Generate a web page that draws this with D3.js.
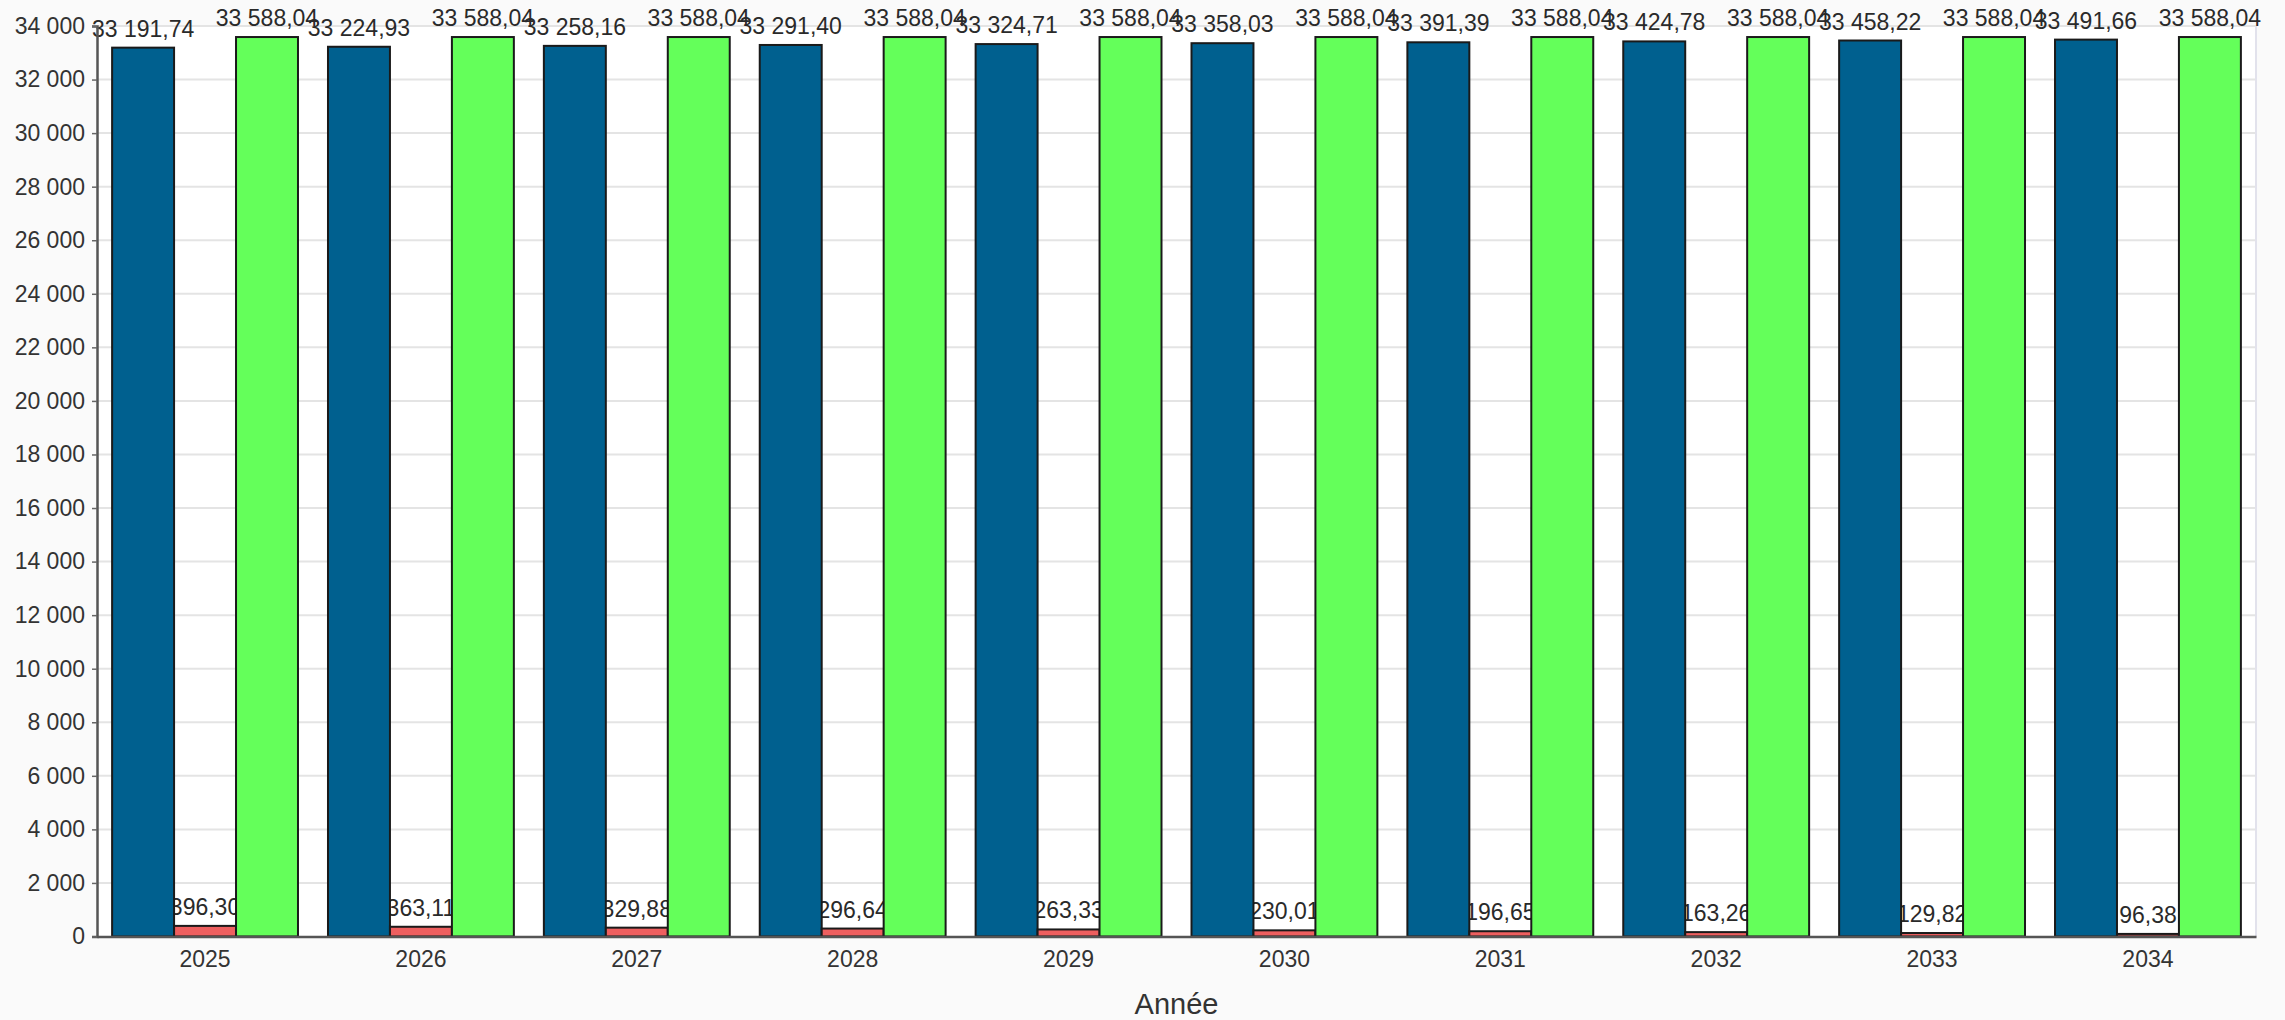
<!DOCTYPE html>
<html>
<head>
<meta charset="utf-8">
<script src="https://cdn.jsdelivr.net/npm/d3@7"></script>
<style>
  html, body { margin: 0; padding: 0; background: #fafafa; }
  svg { display: block; font-family: "Liberation Sans", Arial, sans-serif; }
</style>
</head>
<body>
<svg id="chart" width="2285" height="1020"></svg>
<script>
const years = [2025, 2026, 2027, 2028, 2029, 2030, 2031, 2032, 2033, 2034];
const seriesKeys = ["s1", "s2", "s3"];
const s1Values = [33191.74, 33224.93, 33258.16, 33291.40, 33324.71, 33358.03, 33391.39, 33424.78, 33458.22, 33491.66];
const s2Values = [396.30, 363.11, 329.88, 296.64, 263.33, 230.01, 196.65, 163.26, 129.82, 96.38];
const s3Values = [33588.04, 33588.04, 33588.04, 33588.04, 33588.04, 33588.04, 33588.04, 33588.04, 33588.04, 33588.04];
const yTicks = [0, 2000, 4000, 6000, 8000, 10000, 12000, 14000, 16000, 18000, 20000, 22000, 24000, 26000, 28000, 30000, 32000, 34000];
const xTitle = "Année";

const colors = { s1: "#00608f", s2: "#ee5f5f", s3: "#64ff5a" };
const valuesByKey = { s1: s1Values, s2: s2Values, s3: s3Values };

const locale = d3.formatLocale({ decimal: ",", thousands: " ", grouping: [3], currency: ["", " €"] });
const fmtVal = locale.format(",.2f");
const fmtTick = locale.format(",d");

const L = 97, R = 2256, T = 26, B = 936.5;
const svg = d3.select("#chart");

// plot background
svg.append("rect").attr("x", L).attr("y", T).attr("width", R - L).attr("height", B - T).attr("fill", "#ffffff");

const x0 = d3.scaleBand().domain(years).range([L, R]).paddingInner(0.139).paddingOuter(0.07);
const x1 = d3.scaleBand().domain(seriesKeys).range([0, x0.bandwidth()]).padding(0);
const y = d3.scaleLinear().domain([0, 34000]).range([B, T]);

// gridlines
svg.append("g").selectAll("line").data(yTicks.filter(d => d > 0)).join("line")
  .attr("x1", L).attr("x2", R)
  .attr("y1", d => y(d)).attr("y2", d => y(d))
  .attr("stroke", "#e4e4e4").attr("stroke-width", 2);

// right border
svg.append("line").attr("x1", R).attr("x2", R).attr("y1", T).attr("y2", B)
  .attr("stroke", "#e2e2ec").attr("stroke-width", 2);

const rows = [];
years.forEach((yr, i) => {
  seriesKeys.forEach(k => rows.push({ year: yr, key: k, value: valuesByKey[k][i] }));
});

// labels (drawn beneath bars)
svg.append("g").selectAll("text").data(rows).join("text")
  .attr("x", d => x0(d.year) + x1(d.key) + x1.bandwidth() / 2)
  .attr("y", d => y(d.value) - 11)
  .attr("text-anchor", "middle")
  .attr("font-size", 23)
  .attr("fill", "#2a2a2a")
  .text(d => fmtVal(d.value));

// bars
svg.append("g").selectAll("rect").data(rows).join("rect")
  .attr("x", d => x0(d.year) + x1(d.key))
  .attr("y", d => y(d.value))
  .attr("width", x1.bandwidth())
  .attr("height", d => B - y(d.value))
  .attr("fill", d => colors[d.key])
  .attr("stroke", "#1a1a1a")
  .attr("stroke-width", 2);

// y axis
const yAxis = d3.axisLeft(y).tickValues(yTicks).tickFormat(fmtTick).tickSize(5).tickPadding(7);
const gy = svg.append("g").attr("transform", `translate(${L},0)`).call(yAxis);
gy.select(".domain").attr("stroke", "#555").attr("stroke-width", 2.5);
gy.selectAll(".tick line").attr("stroke", "#666").attr("stroke-width", 1.5);
gy.selectAll(".tick text").attr("font-size", 23).attr("fill", "#333").attr("font-family", "Liberation Sans, Arial, sans-serif");

// x axis
const xAxis = d3.axisBottom(x0).tickSize(0).tickPadding(14).tickSizeOuter(0);
const gx = svg.append("g").attr("transform", `translate(0,${B})`).call(xAxis);
gx.select(".domain").attr("stroke", "#555").attr("stroke-width", 2.5);
gx.selectAll(".tick text").attr("font-size", 23).attr("fill", "#333").attr("font-family", "Liberation Sans, Arial, sans-serif");

// x title
svg.append("text")
  .attr("x", (L + R) / 2).attr("y", 1014)
  .attr("text-anchor", "middle")
  .attr("font-size", 29)
  .attr("fill", "#333")
  .text(xTitle);
</script>
</body>
</html>
